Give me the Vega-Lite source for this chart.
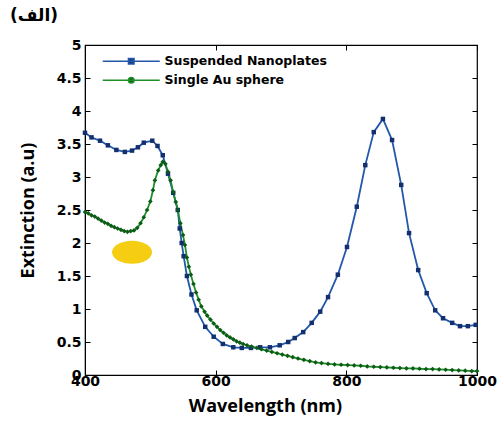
{
  "$schema": "https://vega.github.io/schema/vega-lite/v6.json",
  "width": 392,
  "height": 330,
  "autosize": {"type": "none"},
  "padding": {"left": 85, "top": 45, "right": 27, "bottom": 50},
  "background": "white",
  "title": {"text": "(الف)", "anchor": "start", "frame": "group", "dx": -75, "dy": 21, "offset": 21, "baseline": "alphabetic", "font": "DejaVu Sans", "fontWeight": "bold", "fontSize": 17, "color": "#000"},
  "config": {
    "view": {"stroke": "#000", "strokeWidth": 1.2},
    "axis": {"grid": false, "domainColor": "#000", "tickColor": "#000", "labelColor": "#000", "titleColor": "#000", "labelFont": "DejaVu Sans", "labelFontWeight": "bold", "labelFontSize": 14, "titleFont": "Open Sans", "titleFontWeight": "bold", "titleFontSize": 18, "tickSize": -5, "labelFlush": false}
  },
  "datasets": {
    "blob": [{"wavelength": 472, "extinction": 1.86}]
  },
  "data": {"values": [
    {"series": "Suspended Nanoplates", "wavelength": 400, "extinction": 3.67},
    {"series": "Suspended Nanoplates", "wavelength": 410, "extinction": 3.60},
    {"series": "Suspended Nanoplates", "wavelength": 423, "extinction": 3.55},
    {"series": "Suspended Nanoplates", "wavelength": 435, "extinction": 3.48},
    {"series": "Suspended Nanoplates", "wavelength": 448, "extinction": 3.41},
    {"series": "Suspended Nanoplates", "wavelength": 461, "extinction": 3.38},
    {"series": "Suspended Nanoplates", "wavelength": 472, "extinction": 3.40},
    {"series": "Suspended Nanoplates", "wavelength": 481, "extinction": 3.45},
    {"series": "Suspended Nanoplates", "wavelength": 490, "extinction": 3.52},
    {"series": "Suspended Nanoplates", "wavelength": 503, "extinction": 3.55},
    {"series": "Suspended Nanoplates", "wavelength": 511, "extinction": 3.47},
    {"series": "Suspended Nanoplates", "wavelength": 519, "extinction": 3.33},
    {"series": "Suspended Nanoplates", "wavelength": 527, "extinction": 3.05},
    {"series": "Suspended Nanoplates", "wavelength": 535, "extinction": 2.76},
    {"series": "Suspended Nanoplates", "wavelength": 542, "extinction": 2.50},
    {"series": "Suspended Nanoplates", "wavelength": 545, "extinction": 2.22},
    {"series": "Suspended Nanoplates", "wavelength": 548, "extinction": 2.00},
    {"series": "Suspended Nanoplates", "wavelength": 551, "extinction": 1.80},
    {"series": "Suspended Nanoplates", "wavelength": 556, "extinction": 1.50},
    {"series": "Suspended Nanoplates", "wavelength": 563, "extinction": 1.22},
    {"series": "Suspended Nanoplates", "wavelength": 571, "extinction": 0.98},
    {"series": "Suspended Nanoplates", "wavelength": 584, "extinction": 0.73},
    {"series": "Suspended Nanoplates", "wavelength": 597, "extinction": 0.58},
    {"series": "Suspended Nanoplates", "wavelength": 611, "extinction": 0.47},
    {"series": "Suspended Nanoplates", "wavelength": 627, "extinction": 0.42},
    {"series": "Suspended Nanoplates", "wavelength": 640, "extinction": 0.41},
    {"series": "Suspended Nanoplates", "wavelength": 654, "extinction": 0.41},
    {"series": "Suspended Nanoplates", "wavelength": 668, "extinction": 0.42},
    {"series": "Suspended Nanoplates", "wavelength": 683, "extinction": 0.42},
    {"series": "Suspended Nanoplates", "wavelength": 698, "extinction": 0.45},
    {"series": "Suspended Nanoplates", "wavelength": 711, "extinction": 0.50},
    {"series": "Suspended Nanoplates", "wavelength": 721, "extinction": 0.56},
    {"series": "Suspended Nanoplates", "wavelength": 734, "extinction": 0.65},
    {"series": "Suspended Nanoplates", "wavelength": 747, "extinction": 0.79},
    {"series": "Suspended Nanoplates", "wavelength": 760, "extinction": 0.96},
    {"series": "Suspended Nanoplates", "wavelength": 772, "extinction": 1.18},
    {"series": "Suspended Nanoplates", "wavelength": 787, "extinction": 1.52},
    {"series": "Suspended Nanoplates", "wavelength": 801, "extinction": 1.94},
    {"series": "Suspended Nanoplates", "wavelength": 816, "extinction": 2.55},
    {"series": "Suspended Nanoplates", "wavelength": 829, "extinction": 3.18},
    {"series": "Suspended Nanoplates", "wavelength": 842, "extinction": 3.68},
    {"series": "Suspended Nanoplates", "wavelength": 856, "extinction": 3.88},
    {"series": "Suspended Nanoplates", "wavelength": 870, "extinction": 3.56},
    {"series": "Suspended Nanoplates", "wavelength": 884, "extinction": 2.88},
    {"series": "Suspended Nanoplates", "wavelength": 896, "extinction": 2.15},
    {"series": "Suspended Nanoplates", "wavelength": 910, "extinction": 1.59},
    {"series": "Suspended Nanoplates", "wavelength": 923, "extinction": 1.24},
    {"series": "Suspended Nanoplates", "wavelength": 936, "extinction": 0.98},
    {"series": "Suspended Nanoplates", "wavelength": 948, "extinction": 0.86},
    {"series": "Suspended Nanoplates", "wavelength": 962, "extinction": 0.79},
    {"series": "Suspended Nanoplates", "wavelength": 974, "extinction": 0.74},
    {"series": "Suspended Nanoplates", "wavelength": 986, "extinction": 0.74},
    {"series": "Suspended Nanoplates", "wavelength": 998, "extinction": 0.76},
    {"series": "Single Au sphere", "wavelength": 400, "extinction": 2.47},
    {"series": "Single Au sphere", "wavelength": 405, "extinction": 2.45},
    {"series": "Single Au sphere", "wavelength": 410, "extinction": 2.42},
    {"series": "Single Au sphere", "wavelength": 415, "extinction": 2.40},
    {"series": "Single Au sphere", "wavelength": 420, "extinction": 2.37},
    {"series": "Single Au sphere", "wavelength": 425, "extinction": 2.34},
    {"series": "Single Au sphere", "wavelength": 430, "extinction": 2.31},
    {"series": "Single Au sphere", "wavelength": 435, "extinction": 2.29},
    {"series": "Single Au sphere", "wavelength": 440, "extinction": 2.26},
    {"series": "Single Au sphere", "wavelength": 445, "extinction": 2.24},
    {"series": "Single Au sphere", "wavelength": 450, "extinction": 2.22},
    {"series": "Single Au sphere", "wavelength": 455, "extinction": 2.20},
    {"series": "Single Au sphere", "wavelength": 460, "extinction": 2.18},
    {"series": "Single Au sphere", "wavelength": 465, "extinction": 2.17},
    {"series": "Single Au sphere", "wavelength": 470, "extinction": 2.18},
    {"series": "Single Au sphere", "wavelength": 475, "extinction": 2.19},
    {"series": "Single Au sphere", "wavelength": 480, "extinction": 2.23},
    {"series": "Single Au sphere", "wavelength": 485, "extinction": 2.30},
    {"series": "Single Au sphere", "wavelength": 490, "extinction": 2.39},
    {"series": "Single Au sphere", "wavelength": 495, "extinction": 2.50},
    {"series": "Single Au sphere", "wavelength": 500, "extinction": 2.63},
    {"series": "Single Au sphere", "wavelength": 504, "extinction": 2.80},
    {"series": "Single Au sphere", "wavelength": 507, "extinction": 2.95},
    {"series": "Single Au sphere", "wavelength": 512, "extinction": 3.10},
    {"series": "Single Au sphere", "wavelength": 516, "extinction": 3.18},
    {"series": "Single Au sphere", "wavelength": 519, "extinction": 3.23},
    {"series": "Single Au sphere", "wavelength": 523, "extinction": 3.20},
    {"series": "Single Au sphere", "wavelength": 527, "extinction": 3.08},
    {"series": "Single Au sphere", "wavelength": 531, "extinction": 2.95},
    {"series": "Single Au sphere", "wavelength": 535, "extinction": 2.77},
    {"series": "Single Au sphere", "wavelength": 539, "extinction": 2.62},
    {"series": "Single Au sphere", "wavelength": 542, "extinction": 2.50},
    {"series": "Single Au sphere", "wavelength": 546, "extinction": 2.30},
    {"series": "Single Au sphere", "wavelength": 550, "extinction": 2.12},
    {"series": "Single Au sphere", "wavelength": 553, "extinction": 1.97},
    {"series": "Single Au sphere", "wavelength": 556, "extinction": 1.78},
    {"series": "Single Au sphere", "wavelength": 559, "extinction": 1.64},
    {"series": "Single Au sphere", "wavelength": 562, "extinction": 1.52},
    {"series": "Single Au sphere", "wavelength": 566, "extinction": 1.38},
    {"series": "Single Au sphere", "wavelength": 570, "extinction": 1.25},
    {"series": "Single Au sphere", "wavelength": 574, "extinction": 1.14},
    {"series": "Single Au sphere", "wavelength": 578, "extinction": 1.04},
    {"series": "Single Au sphere", "wavelength": 583, "extinction": 0.96},
    {"series": "Single Au sphere", "wavelength": 587, "extinction": 0.90},
    {"series": "Single Au sphere", "wavelength": 592, "extinction": 0.84},
    {"series": "Single Au sphere", "wavelength": 597, "extinction": 0.78},
    {"series": "Single Au sphere", "wavelength": 602, "extinction": 0.73},
    {"series": "Single Au sphere", "wavelength": 607, "extinction": 0.68},
    {"series": "Single Au sphere", "wavelength": 612, "extinction": 0.64},
    {"series": "Single Au sphere", "wavelength": 617, "extinction": 0.60},
    {"series": "Single Au sphere", "wavelength": 622, "extinction": 0.57},
    {"series": "Single Au sphere", "wavelength": 627, "extinction": 0.54},
    {"series": "Single Au sphere", "wavelength": 632, "extinction": 0.51},
    {"series": "Single Au sphere", "wavelength": 637, "extinction": 0.49},
    {"series": "Single Au sphere", "wavelength": 642, "extinction": 0.47},
    {"series": "Single Au sphere", "wavelength": 648, "extinction": 0.45},
    {"series": "Single Au sphere", "wavelength": 655, "extinction": 0.43},
    {"series": "Single Au sphere", "wavelength": 663, "extinction": 0.41},
    {"series": "Single Au sphere", "wavelength": 670, "extinction": 0.39},
    {"series": "Single Au sphere", "wavelength": 678, "extinction": 0.37},
    {"series": "Single Au sphere", "wavelength": 686, "extinction": 0.35},
    {"series": "Single Au sphere", "wavelength": 694, "extinction": 0.33},
    {"series": "Single Au sphere", "wavelength": 702, "extinction": 0.31},
    {"series": "Single Au sphere", "wavelength": 710, "extinction": 0.29},
    {"series": "Single Au sphere", "wavelength": 718, "extinction": 0.27},
    {"series": "Single Au sphere", "wavelength": 726, "extinction": 0.25},
    {"series": "Single Au sphere", "wavelength": 735, "extinction": 0.23},
    {"series": "Single Au sphere", "wavelength": 744, "extinction": 0.21},
    {"series": "Single Au sphere", "wavelength": 753, "extinction": 0.19},
    {"series": "Single Au sphere", "wavelength": 762, "extinction": 0.18},
    {"series": "Single Au sphere", "wavelength": 772, "extinction": 0.17},
    {"series": "Single Au sphere", "wavelength": 782, "extinction": 0.16},
    {"series": "Single Au sphere", "wavelength": 792, "extinction": 0.155},
    {"series": "Single Au sphere", "wavelength": 802, "extinction": 0.15},
    {"series": "Single Au sphere", "wavelength": 812, "extinction": 0.145},
    {"series": "Single Au sphere", "wavelength": 822, "extinction": 0.14},
    {"series": "Single Au sphere", "wavelength": 832, "extinction": 0.13},
    {"series": "Single Au sphere", "wavelength": 842, "extinction": 0.125},
    {"series": "Single Au sphere", "wavelength": 852, "extinction": 0.12},
    {"series": "Single Au sphere", "wavelength": 862, "extinction": 0.115},
    {"series": "Single Au sphere", "wavelength": 872, "extinction": 0.11},
    {"series": "Single Au sphere", "wavelength": 882, "extinction": 0.105},
    {"series": "Single Au sphere", "wavelength": 892, "extinction": 0.10},
    {"series": "Single Au sphere", "wavelength": 902, "extinction": 0.10},
    {"series": "Single Au sphere", "wavelength": 912, "extinction": 0.095},
    {"series": "Single Au sphere", "wavelength": 922, "extinction": 0.09},
    {"series": "Single Au sphere", "wavelength": 932, "extinction": 0.09},
    {"series": "Single Au sphere", "wavelength": 942, "extinction": 0.085},
    {"series": "Single Au sphere", "wavelength": 952, "extinction": 0.08},
    {"series": "Single Au sphere", "wavelength": 962, "extinction": 0.075},
    {"series": "Single Au sphere", "wavelength": 972, "extinction": 0.07},
    {"series": "Single Au sphere", "wavelength": 982, "extinction": 0.065},
    {"series": "Single Au sphere", "wavelength": 992, "extinction": 0.06},
    {"series": "Single Au sphere", "wavelength": 1000, "extinction": 0.06}
  ]},
  "layer": [
    {
      "mark": {"type": "line", "strokeWidth": 1.8},
      "encoding": {
        "x": {"field": "wavelength", "type": "quantitative", "scale": {"domain": [400, 1000], "nice": false, "zero": false, "padding": 0},
              "axis": {"orient": "bottom", "values": [400, 600, 800, 1000], "format": "d", "title": "Wavelength (nm)", "labelPadding": 4, "labelFlush": false, "titleX": 180, "titleY": 36, "titleBaseline": "alphabetic"}},
        "y": {"field": "extinction", "type": "quantitative", "scale": {"domain": [0, 5], "nice": false, "padding": 0},
              "axis": {"orient": "left", "values": [0, 0.5, 1, 1.5, 2, 2.5, 3, 3.5, 4, 4.5, 5], "format": "~g", "title": "Extinction (a.u)", "labelPadding": 9, "labelFlush": false, "titleX": -57, "titleY": 165, "titleAngle": -90, "titleAlign": "center", "titleBaseline": "middle"}},
        "color": {"field": "series", "type": "nominal",
                  "scale": {"domain": ["Suspended Nanoplates", "Single Au sphere"], "range": ["#2257aa", "#1f8f2a"]},
                  "legend": {"title": null, "orient": "none", "legendX": 40, "legendY": 10, "symbolSize": 100, "labelOffset": 27, "rowPadding": 6, "labelLimit": 400,
                             "labelFont": "DejaVu Sans", "labelFontWeight": "bold", "labelFontSize": 12.5, "labelColor": "#000",
                             "encode": {"symbols": {"update": {
                               "shape": {"signal": "datum.value === 'Suspended Nanoplates' ? 'M-5.7,0H5.7M-0.55,-0.55H0.55V0.55H-0.55Z' : 'M-5.7,0H5.7M-0.55,0A0.55,0.55 0 1,0 0.55,0A0.55,0.55 0 1,0 -0.55,0'"},
                               "fill": {"signal": "datum.value === 'Suspended Nanoplates' ? '#163a85' : '#0c5c16'"},
                               "stroke": {"signal": "datum.value === 'Suspended Nanoplates' ? '#1d4f9e' : '#8fc08f'"},
                               "strokeWidth": {"value": 1.6},
                               "opacity": {"value": 1}
                             }}}}}
      }
    },
    {
      "transform": [{"filter": "datum.series === 'Suspended Nanoplates'"}],
      "mark": {"type": "point", "shape": "square", "filled": true, "size": 20, "color": "#132f6e", "opacity": 1},
      "encoding": {
        "x": {"field": "wavelength", "type": "quantitative", "scale": {"domain": [400, 1000], "nice": false, "zero": false, "padding": 0},
              "axis": {"orient": "top", "values": [400, 600, 800, 1000], "labels": false, "title": null, "domain": false}},
        "y": {"field": "extinction", "type": "quantitative", "scale": {"domain": [0, 5], "nice": false, "padding": 0},
              "axis": {"orient": "right", "values": [0, 0.5, 1, 1.5, 2, 2.5, 3, 3.5, 4, 4.5, 5], "labels": false, "title": null, "domain": false}}
      }
    },
    {
      "transform": [{"filter": "datum.series === 'Single Au sphere'"}],
      "mark": {"type": "point", "shape": "diamond", "filled": true, "size": 22, "color": "#0c5c16", "opacity": 1},
      "encoding": {
        "x": {"field": "wavelength", "type": "quantitative", "scale": {"domain": [400, 1000], "nice": false, "zero": false, "padding": 0}, "axis": null},
        "y": {"field": "extinction", "type": "quantitative", "scale": {"domain": [0, 5], "nice": false, "padding": 0}, "axis": null}
      }
    },
    {
      "data": {"name": "blob"},
      "mark": {"type": "point", "shape": "M-1,0A1,0.58 0 1,0 1,0A1,0.58 0 1,0 -1,0", "filled": true, "size": 1600, "color": "#f5cd12", "opacity": 1},
      "encoding": {
        "x": {"field": "wavelength", "type": "quantitative", "scale": {"domain": [400, 1000], "nice": false, "zero": false, "padding": 0}, "axis": null},
        "y": {"field": "extinction", "type": "quantitative", "scale": {"domain": [0, 5], "nice": false, "padding": 0}, "axis": null}
      }
    }
  ],
  "resolve": {"axis": {"x": "independent", "y": "independent"}}
}
